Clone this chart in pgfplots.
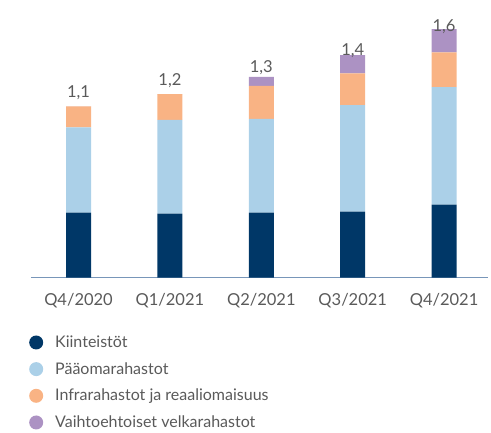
\documentclass[border=0pt]{standalone}
\usepackage{pgfplots}
\pgfplotsset{compat=1.18}
\usepackage{fontspec}
\setmainfont{Lato}
\definecolor{kiint}{HTML}{003767}
\definecolor{paaoma}{HTML}{ABD0E8}
\definecolor{infra}{HTML}{F9B384}
\definecolor{velka}{HTML}{AC92C3}
\definecolor{labgray}{HTML}{5A5A5A}
\definecolor{axisline}{RGB}{120,150,185}
\begin{document}
\begin{tikzpicture}
\useasboundingbox (-31pt,-154.3pt) rectangle (460pt,277.7pt);
\begin{axis}[
    scale only axis,
    width=457pt, height=263.5pt,
    ybar stacked, bar width=25pt,
    xmin=-0.52, xmax=4.48, ymin=0, ymax=1.7,
    axis x line*=bottom, axis y line=none,
    x axis line style={color=axisline, line width=1pt, -},
    xtick={0,1,2,3,4},
    xticklabels={Q4/2020,Q1/2021,Q2/2021,Q3/2021,Q4/2021},
    major tick length=0pt,
    xticklabel style={font=\fontsize{16.5}{19}\selectfont, text=labgray, yshift=-12pt},
    clip=false,
    every axis plot/.append style={draw=none,
        legend image code/.code={\fill[##1] (0pt,0pt) circle (7pt);}},
    legend cell align=left,
    legend style={at={(0,0)}, anchor=north west, xshift=-5pt, yshift=-54pt,
        draw=none, fill=none, font=\fontsize{16}{18}\selectfont, text=labgray,
        row sep=9.4pt, /tikz/every odd column/.append style={column sep=10pt}},
]
\addplot[fill=kiint] coordinates {(0,0.42) (1,0.413) (2,0.42) (3,0.426) (4,0.471)};
\addplot[fill=paaoma] coordinates {(0,0.55) (1,0.606) (2,0.605) (3,0.688) (4,0.759)};
\addplot[fill=infra] coordinates {(0,0.135) (1,0.166) (2,0.213) (3,0.204) (4,0.224)};
\addplot[fill=velka, nodes near coords, point meta=explicit symbolic,
    nodes near coords style={font=\fontsize{16.5}{19}\selectfont, text=labgray, anchor=south, yshift=3pt}]
    coordinates {(0,0.0001) [1,1] (1,0.0001) [1,2] (2,0.058) [1,3] (3,0.118) [1,4] (4,0.15) [1,6]};
\legend{Kiinteistöt, Pääomarahastot, Infrarahastot ja reaaliomaisuus, Vaihtoehtoiset velkarahastot}
\end{axis}
\end{tikzpicture}
\end{document}
